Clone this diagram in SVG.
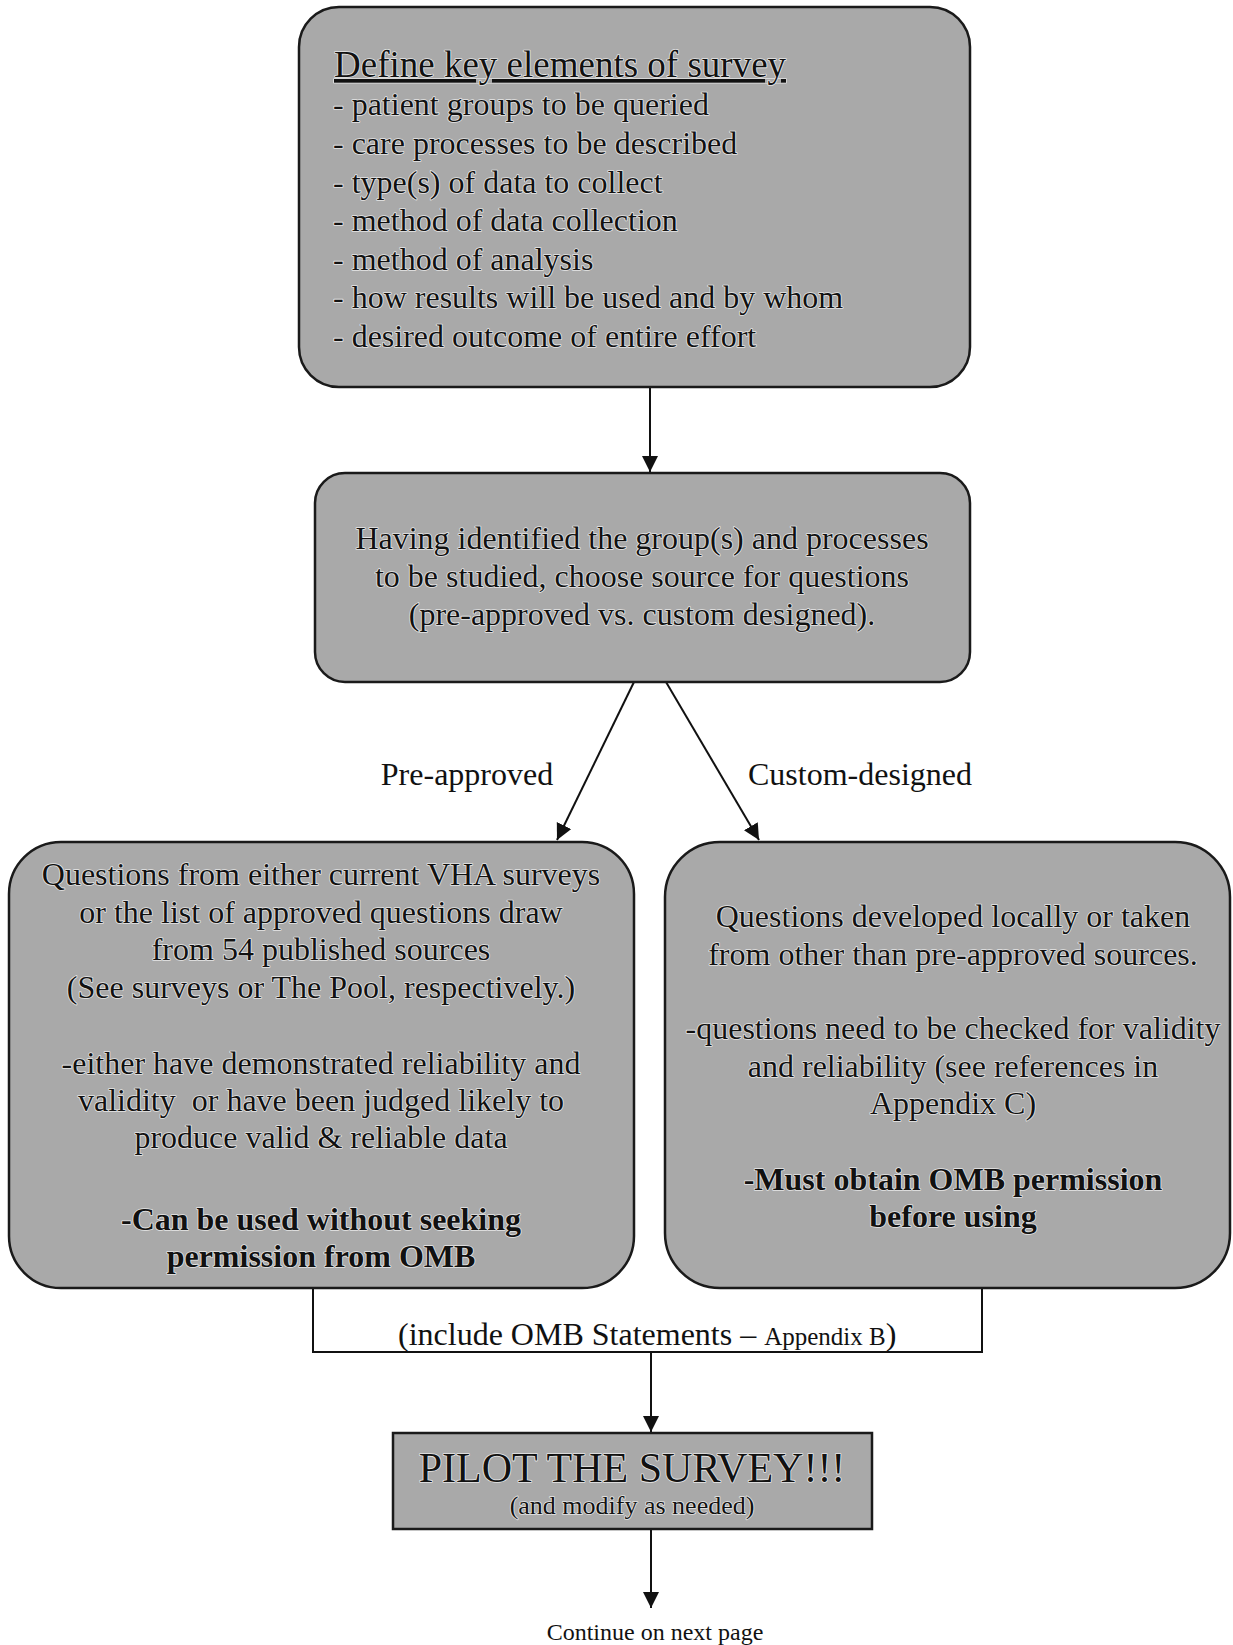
<svg xmlns="http://www.w3.org/2000/svg" width="1233" height="1645" viewBox="0 0 1233 1645">
<defs>
<style>
.box{fill:#a9a9a9;stroke:#1a1a1a;stroke-width:2.5}
.t{font-family:"Liberation Serif","Times New Roman",serif;font-size:32px;fill:#111;stroke:#e6e6e6;stroke-width:1.6;paint-order:stroke;stroke-linejoin:round;white-space:pre}
.c{text-anchor:middle}
.b{font-weight:bold}
.plain{font-family:"Liberation Serif","Times New Roman",serif;fill:#111;white-space:pre}
.conn{stroke:#111;stroke-width:2;fill:none}
</style>
<marker id="ah" markerUnits="userSpaceOnUse" markerWidth="16" markerHeight="20" refX="16" refY="8" orient="auto">
<path d="M0,0 L16,8 L0,16 Z" fill="#111"/>
</marker>
</defs>
<rect width="1233" height="1645" fill="#ffffff"/>

<g id="connectors">
<line class="conn" x1="650" y1="387" x2="650" y2="472" marker-end="url(#ah)"/>
<line class="conn" x1="634" y1="682" x2="557" y2="840" marker-end="url(#ah)"/>
<line class="conn" x1="666" y1="682" x2="759" y2="840" marker-end="url(#ah)"/>
<polyline class="conn" points="313,1288 313,1352 982,1352 982,1288"/>
<line class="conn" x1="651" y1="1352" x2="651" y2="1432" marker-end="url(#ah)"/>
<line class="conn" x1="651" y1="1529" x2="651" y2="1608" marker-end="url(#ah)"/>
</g>

<g id="node-define">
<rect class="box" x="299" y="7" width="671" height="380" rx="40" ry="40"/>
<text class="t" x="334" y="77" style="font-size:37px;text-decoration:underline">Define key elements of survey</text>
<text class="t" x="333" y="115">- patient groups to be queried</text>
<text class="t" x="333" y="154">- care processes to be described</text>
<text class="t" x="333" y="193">- type(s) of data to collect</text>
<text class="t" x="333" y="231">- method of data collection</text>
<text class="t" x="333" y="270">- method of analysis</text>
<text class="t" x="333" y="308">- how results will be used and by whom</text>
<text class="t" x="333" y="347">- desired outcome of entire effort</text>
</g>

<g id="node-choose">
<rect class="box" x="315" y="473" width="655" height="209" rx="30" ry="30"/>
<text class="t c" x="642" y="549">Having identified the group(s) and processes</text>
<text class="t c" x="642" y="587">to be studied, choose source for questions</text>
<text class="t c" x="642" y="625">(pre-approved vs. custom designed).</text>
</g>

<g id="labels">
<text class="plain" x="467" y="785" text-anchor="middle" font-size="32">Pre-approved</text>
<text class="plain" x="860" y="785" text-anchor="middle" font-size="32">Custom-designed</text>
</g>

<g id="node-preapproved">
<rect class="box" x="9" y="842" width="625" height="446" rx="52" ry="52"/>
<text class="t c" x="321" y="885">Questions from either current VHA surveys</text>
<text class="t c" x="321" y="923">or the list of approved questions draw</text>
<text class="t c" x="321" y="960">from 54 published sources</text>
<text class="t c" x="321" y="998">(See surveys or The Pool, respectively.)</text>
<text class="t c" x="321" y="1074">-either have demonstrated reliability and</text>
<text class="t c" x="321" y="1111">validity  or have been judged likely to</text>
<text class="t c" x="321" y="1148">produce valid &amp; reliable data</text>
<text class="t c b" x="321" y="1230">-Can be used without seeking</text>
<text class="t c b" x="321" y="1267">permission from OMB</text>
</g>

<g id="node-custom">
<rect class="box" x="665" y="842" width="565" height="446" rx="55" ry="55"/>
<text class="t c" x="953" y="927">Questions developed locally or taken</text>
<text class="t c" x="953" y="965">from other than pre-approved sources.</text>
<text class="t c" x="953" y="1039">-questions need to be checked for validity</text>
<text class="t c" x="953" y="1077">and reliability (see references in</text>
<text class="t c" x="953" y="1114">Appendix C)</text>
<text class="t c b" x="953" y="1190">-Must obtain OMB permission</text>
<text class="t c b" x="953" y="1227">before using</text>
</g>

<g id="omb-note">
<text class="plain" x="398" y="1345" font-size="32">(include OMB Statements – <tspan font-size="25">Appendix B</tspan>)</text>
</g>

<g id="node-pilot">
<rect class="box" x="393" y="1433" width="479" height="96"/>
<text class="t c" x="632" y="1482" style="font-size:42px">PILOT THE SURVEY!!!</text>
<text class="t c" x="632" y="1514" style="font-size:26px">(and modify as needed)</text>
</g>

<g id="footer">
<text class="plain" x="655" y="1640" text-anchor="middle" font-size="24">Continue on next page</text>
</g>
</svg>
